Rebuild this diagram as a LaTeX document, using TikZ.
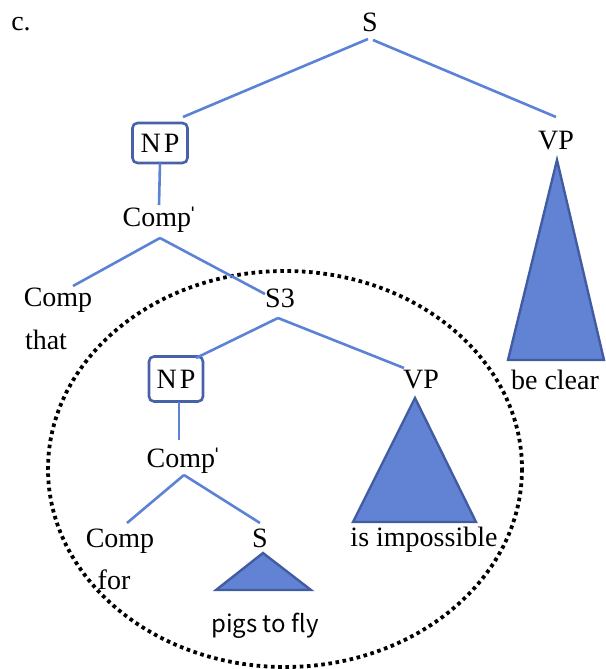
\documentclass[tikz,border=0pt]{standalone}
\usepackage{fontspec}
\setmainfont{Liberation Serif}
\newfontfamily\sansf{Noto Sans CJK KR}
\definecolor{branchc}{RGB}{92,130,214}
\definecolor{trifill}{RGB}{98,130,212}
\definecolor{triedge}{RGB}{66,92,162}
\definecolor{boxedge}{RGB}{72,98,168}
\begin{document}
\begin{tikzpicture}[x=1pt,y=-1pt,
  lbl/.style={inner sep=0pt,font=\fontsize{28}{32}\selectfont},
  npbox/.style={draw=boxedge,line width=2.6pt,rounded corners=5pt,inner sep=0pt,font=\fontsize{28}{32}\selectfont},
  branch/.style={draw=branchc,line width=2.6pt},
  tri/.style={draw=triedge,fill=trifill,line width=2.4pt,line join=miter},
  enclose/.style={draw=black,line width=3.8pt,dash pattern=on 3.6pt off 3.6pt}]
\useasboundingbox (0,0) rectangle (605,669);
% encircling dotted ellipse
\draw[enclose] (285,469) ellipse [x radius=237, y radius=198];
% labels
\node[lbl] (c) at (21,24) {c.};
\node[lbl] (S) at (370,22) {S};
\node[npbox,minimum width=55pt,minimum height=40pt] (NP) at (160,143) {N\kern3pt P};
\node[lbl] (VP) at (556,141) {VP};
\node[lbl] (CompB) at (160,220) {Comp\kern-3ptˈ};
\node[lbl] (Comp) at (58,300) {Comp};
\node[lbl] (that) at (46,340) {that};
\node[lbl] (S3) at (280,298) {S3};
\node[npbox,minimum width=54pt,minimum height=45pt] (NPb) at (176,379) {N\kern3pt P};
\node[lbl] (VPb) at (421,380) {VP};
\node[lbl] (CompBb) at (184,461) {Comp\kern-3ptˈ};
\node[lbl] (Compb) at (120,541) {Comp};
\node[lbl] (for) at (114,580) {for};
\node[lbl] (Ss) at (260,538) {S};
\node[lbl] (imp) at (424,540) {is impossible};
\node[lbl] (clear) at (555,380) {be clear};
\node[inner sep=0pt,font=\sansf\fontsize{24}{28}\selectfont] (pigs) at (265,626) {pigs to fly};
% connector end points
\coordinate (Sb) at (368,39);
\coordinate (Sr) at (373,40);
\coordinate (NPt) at (183,117);
\coordinate (VPt) at (556,117);
\coordinate (NPbot) at (160,163);
\coordinate (CBt) at (159,205);
\coordinate (CBb) at (160,238);
\coordinate (Compt) at (73,286);
\coordinate (S3t) at (265,294);
\coordinate (S3b) at (278,318);
\coordinate (NPbt) at (196,358);
\coordinate (VPbt) at (404,368);
\coordinate (NPbbot) at (179,402);
\coordinate (CBbt) at (179,440);
\coordinate (CBbb) at (184,475);
\coordinate (Compbt) at (127,523);
\coordinate (Sst) at (260,523);
% branches
\draw[branch] (Sb) -- (NPt);
\draw[branch] (Sr) -- (VPt);
\draw[branch] (NPbot) -- (CBt);
\draw[branch] (CBb) -- (Compt);
\draw[branch] (CBb) -- (S3t);
\draw[branch] (S3b) -- (NPbt);
\draw[branch] (S3b) -- (VPbt);
\draw[branch] (NPbbot) -- (CBbt);
\draw[branch] (CBbb) -- (Compbt);
\draw[branch] (CBbb) -- (Sst);
% triangles
\coordinate (T1a) at (557,160); \coordinate (T1l) at (508,360); \coordinate (T1r) at (604,360);
\draw[tri] (T1a) -- (T1l) -- (T1r) -- cycle;
\coordinate (T2a) at (415,398); \coordinate (T2l) at (353,522); \coordinate (T2r) at (476,522);
\draw[tri] (T2a) -- (T2l) -- (T2r) -- cycle;
\coordinate (T3a) at (263,553); \coordinate (T3l) at (216,590); \coordinate (T3r) at (311,590);
\draw[tri] (T3a) -- (T3l) -- (T3r) -- cycle;
\end{tikzpicture}
\end{document}
